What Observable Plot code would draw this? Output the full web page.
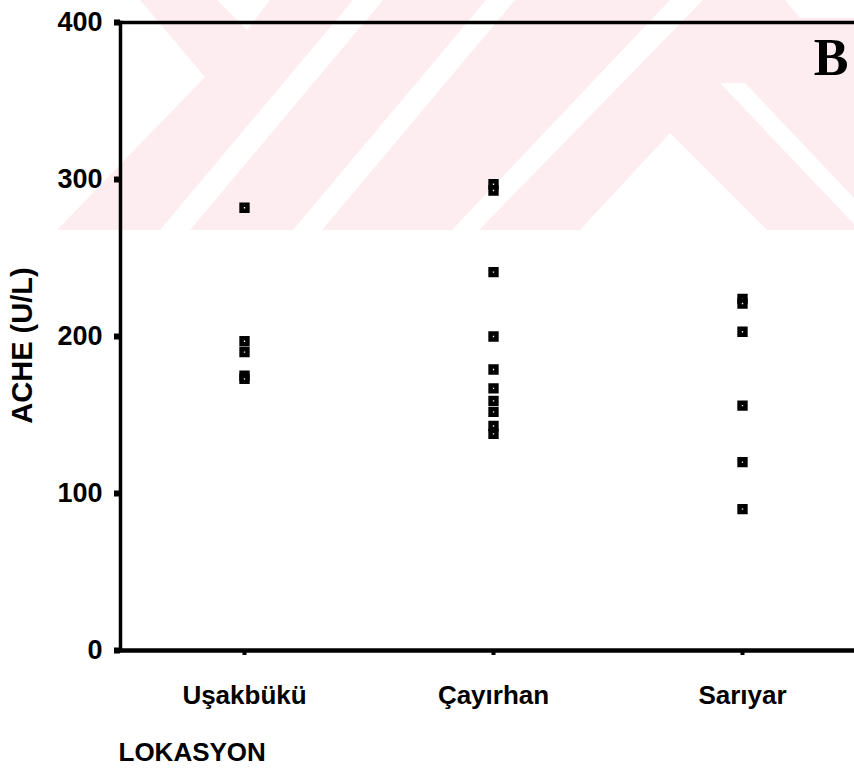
<!DOCTYPE html>
<html>
<head>
<meta charset="utf-8">
<script src="https://cdn.jsdelivr.net/npm/d3@7"></script>
<script src="https://cdn.jsdelivr.net/npm/@observablehq/plot@0.6"></script>
<style>
  html, body { margin: 0; padding: 0; background: #fff; }
  #wrap { position: relative; width: 854px; height: 772px; overflow: hidden; }
  #wm { position: absolute; left: 0; top: 0; z-index: 0; }
  #chart { position: absolute; left: 0; top: 0; z-index: 1; }
</style>
</head>
<body>
<div id="wrap">
  <svg id="wm" width="854" height="772" xmlns="http://www.w3.org/2000/svg">
    <rect x="0" y="0" width="854" height="230" fill="#fdedf0"></rect>
    <polygon fill="#fff" points="0,0 140,0 205,77 57,230 0,230"></polygon>
    <polygon fill="#fff" points="217,0 270,0 247,30"></polygon>
    <polygon fill="#fff" points="160,230 190,230 383,0 353,0"></polygon>
    <polygon fill="#fff" points="293,230 322,230 515,0 486,0"></polygon>
    <polygon fill="#fff" points="452,230 479,230 703,0 670,0"></polygon>
    <polygon fill="#fff" points="580,230 670,133 767,230"></polygon>
    <polygon fill="#fff" points="720,83 745,83 854,198 854,224"></polygon>
    <polygon fill="#fff" points="785,0 854,0 854,18 800,18"></polygon>
  </svg>
  <div id="chart"></div>
</div>
<script>
// ---- Data ----
const categories = ["Uşakbükü", "Çayırhan", "Sarıyar"];
const usakbukuValues = [282, 197, 190, 175, 173];
const cayirhanValues = [297, 293, 241, 200, 179, 167, 159, 152, 143, 138];
const sariyarValues = [224, 221, 203, 156, 120, 90];
const yTicks = [0, 100, 200, 300, 400];
const yLabel = "ACHE (U/L)";
const xLabel = "LOKASYON";
const panelLetter = "B";

const seriesByCategory = [usakbukuValues, cayirhanValues, sariyarValues];
const data = [];
categories.forEach((c, i) => seriesByCategory[i].forEach(v => data.push({lokasyon: c, ache: v})));

const sans = "'Liberation Sans', Arial, sans-serif";

const chart = Plot.plot({
  width: 854,
  height: 772,
  marginLeft: 120,
  marginRight: 0,
  marginTop: 22,
  marginBottom: 122,
  style: {background: "transparent", fontFamily: sans, color: "#000"},
  x: {type: "point", domain: categories, range: [243, 742], padding: 0},
  y: {domain: [0, 400]},
  marks: [
    Plot.ruleY([400], {stroke: "#000", strokeWidth: 3.5}),
    Plot.frame({anchor: "left", stroke: "#000", strokeWidth: 3.5}),
    Plot.ruleY([0], {stroke: "#000", strokeWidth: 4.5}),
    Plot.axisY({ticks: yTicks, tickSize: 6, tickPadding: 12, strokeWidth: 6, stroke: "#000",
      fontSize: 27, fontWeight: "bold", label: null, tickFormat: d => String(d)}),
    Plot.axisX({tickSize: 5, tickPadding: 30, strokeWidth: 4, stroke: "#000",
      fontSize: 26, fontWeight: "bold", label: null}),
    Plot.dot(data, {x: "lokasyon", y: "ache", symbol: "square", r: 3.3,
      fill: "#fff", stroke: "#000", strokeWidth: 4.5}),
    Plot.text([yLabel], {text: d => d, frameAnchor: "left", textAnchor: "middle", rotate: -90,
      dx: -98, dy: 9, fontSize: 29, fontWeight: "bold"}),
    Plot.text([panelLetter], {text: d => d, frameAnchor: "top-right", textAnchor: "end",
      lineAnchor: "top", dx: -6, dy: 16, fontSize: 52, fontWeight: "bold",
      fontFamily: "'Liberation Serif', 'Times New Roman', serif"}),
    Plot.text([xLabel], {text: d => d, frameAnchor: "bottom-left", textAnchor: "start",
      dx: -2, dy: 110, fontSize: 26, fontWeight: "bold"})
  ]
});
document.getElementById("chart").appendChild(chart);
</script>
</body>
</html>
